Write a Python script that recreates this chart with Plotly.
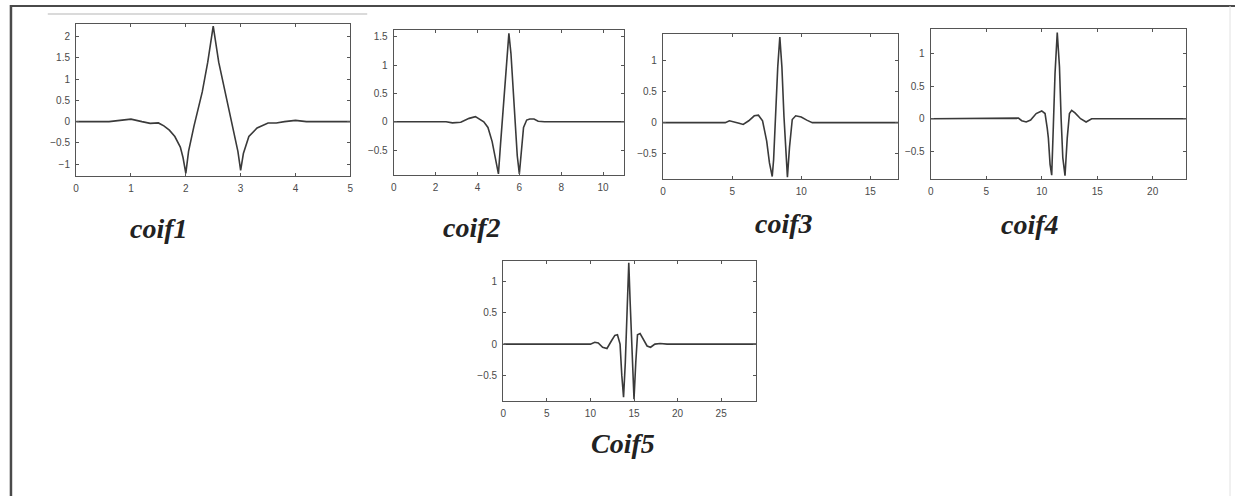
import plotly.graph_objects as go

# Coiflet wavelet functions psi(t), sampled by hand along each curve
coif1_x = [0, 0.6, 0.8, 1.0, 1.2, 1.35, 1.5, 1.6, 1.7, 1.8, 1.9, 1.95, 2.0, 2.05, 2.15, 2.3, 2.4, 2.5,
           2.6, 2.7, 2.85, 2.95, 3.0, 3.05, 3.15, 3.3, 3.5, 3.65, 3.8, 4.0, 4.2, 5.0]
coif1_y = [0, 0, 0.03, 0.06, 0.0, -0.04, -0.03, -0.1, -0.2, -0.35, -0.6, -0.85, -1.22, -0.7, -0.1, 0.7, 1.4, 2.25,
           1.4, 0.8, -0.1, -0.7, -1.15, -0.75, -0.35, -0.15, -0.03, -0.03, 0.0, 0.03, 0.0, 0.0]

coif2_x = [0, 2.5, 2.8, 3.2, 3.6, 3.9, 4.3, 4.5, 4.7, 4.85, 4.95, 5.0, 5.1, 5.25, 5.4, 5.5, 5.6, 5.75,
           5.9, 6.0, 6.08, 6.2, 6.35, 6.5, 6.7, 6.9, 7.2, 11]
coif2_y = [0, 0, -0.02, -0.01, 0.06, 0.09, 0.0, -0.1, -0.35, -0.65, -0.88, -0.92, -0.4, 0.4, 1.2, 1.56, 1.2, 0.3,
           -0.6, -0.92, -0.6, -0.1, 0.03, 0.05, 0.05, 0.01, 0, 0]

coif3_x = [0, 4.5, 4.8, 5.2, 5.5, 5.8, 6.2, 6.6, 6.9, 7.2, 7.5, 7.7, 7.9, 8.0, 8.15, 8.3, 8.45, 8.6,
           8.75, 8.9, 9.0, 9.15, 9.35, 9.6, 10.0, 10.4, 10.8, 11.2, 17]
coif3_y = [0, 0, 0.03, 0.0, -0.01, -0.03, 0.03, 0.11, 0.12, 0.03, -0.3, -0.65, -0.87, -0.6, 0.2, 0.9, 1.38, 0.9,
           0.1, -0.6, -0.88, -0.4, 0.05, 0.11, 0.09, 0.04, 0.0, 0.0, 0]

coif4_x = [0, 7.6, 7.9, 8.2, 8.6, 9.0, 9.5, 10.0, 10.3, 10.5, 10.6, 10.75, 10.9, 11.05, 11.2, 11.4, 11.6,
           11.75, 11.9, 12.1, 12.3, 12.5, 12.7, 13.0, 13.5, 14.0, 14.5, 15, 23]
coif4_y = [0, 0, 0.01, -0.03, -0.05, -0.02, 0.08, 0.12, 0.08, -0.15, -0.3, -0.7, -0.87, -0.1, 0.7, 1.33, 0.8,
           0.0, -0.6, -0.88, -0.3, 0.08, 0.13, 0.09, 0.0, -0.05, 0.0, 0, 0]

coif5_x = [0, 10.0, 10.5, 10.9, 11.4, 11.9, 12.4, 12.8, 13.1, 13.4, 13.6, 13.8, 14.0, 14.2, 14.4, 14.55,
           14.7, 14.85, 15.0, 15.2, 15.4, 15.7, 16.1, 16.5, 16.9, 17.4, 18.0, 18.8, 29]
coif5_y = [0, 0, 0.03, 0.02, -0.05, -0.07, 0.05, 0.14, 0.15, 0.0, -0.5, -0.85, -0.3, 0.6, 1.3, 0.7,
           0.1, -0.5, -0.88, -0.3, 0.15, 0.17, 0.08, -0.03, -0.05, 0.0, 0.01, 0, 0]

names = ["coif1", "coif2", "coif3", "coif4", "Coif5"]
xs = [coif1_x, coif2_x, coif3_x, coif4_x, coif5_x]
ys = [coif1_y, coif2_y, coif3_y, coif4_y, coif5_y]
x_ranges = [[0, 5], [0, 11], [0, 17], [0, 23], [0, 29]]
y_ranges = [[-1.28, 2.3], [-0.94, 1.62], [-0.91, 1.43], [-0.93, 1.38], [-0.91, 1.33]]
x_ticks = [[0, 1, 2, 3, 4, 5], [0, 2, 4, 6, 8, 10], [0, 5, 10, 15], [0, 5, 10, 15, 20], [0, 5, 10, 15, 20, 25]]
y_ticks = [[-1, -0.5, 0, 0.5, 1, 1.5, 2], [-0.5, 0, 0.5, 1, 1.5], [-0.5, 0, 0.5, 1],
           [-0.5, 0, 0.5, 1], [-0.5, 0, 0.5, 1]]

W, H = 1238, 496
# panel boxes in pixels: left, right, top, bottom
boxes = [(73.5, 349, 24, 176), (392.7, 624, 30, 175), (663.3, 899.3, 34, 179),
         (932.3, 1188.7, 29.3, 179), (502.7, 756.7, 261, 401)]
# caption centres in pixels
captions = [(157, 228), (471, 227), (785, 223), (1032, 224), (623, 443)]

AX_COLOR = "#555555"
TICK_FONT = dict(family="Liberation Sans, Arial, sans-serif", size=10, color="#4a4a4a")

fig = go.Figure()
layout = dict(width=W, height=H, margin=dict(l=0, r=0, t=0, b=0),
              paper_bgcolor="white", plot_bgcolor="white", showlegend=False)

annotations = []
for i in range(5):
    sfx = "" if i == 0 else str(i + 1)
    l, r, t, b = boxes[i]
    fig.add_trace(go.Scatter(x=xs[i], y=ys[i], mode="lines",
                             line=dict(color="#3a3a3a", width=1.6),
                             xaxis="x" + sfx, yaxis="y" + sfx, hoverinfo="skip"))
    common = dict(showgrid=False, zeroline=False, showline=True, linecolor=AX_COLOR, linewidth=1.3,
                  mirror="ticks", ticks="inside", ticklen=3, tickcolor=AX_COLOR, tickfont=TICK_FONT)
    layout["xaxis" + sfx] = dict(common, domain=[l / W, r / W], range=x_ranges[i], tickvals=x_ticks[i],
                                  anchor="y" + sfx, ticklabelstandoff=3)
    layout["yaxis" + sfx] = dict(common, domain=[1 - b / H, 1 - t / H], range=y_ranges[i], tickvals=y_ticks[i],
                                  anchor="x" + sfx, ticklabelstandoff=3)
    cx, cy = captions[i]
    annotations.append(dict(text="<b><i>" + names[i] + "</i></b>", x=cx / W, y=1 - cy / H,
                            xref="paper", yref="paper", showarrow=False, xanchor="center", yanchor="middle",
                            font=dict(family="Liberation Serif, Times New Roman, serif", size=28, color="#222222")))

shapes = [
    # outer frame: top and left edges, faint right edge
    dict(type="line", xref="paper", yref="paper", x0=7 / W, x1=1, y0=1 - 6 / H, y1=1 - 6 / H,
         line=dict(color="#4a4a4a", width=2)),
    dict(type="line", xref="paper", yref="paper", x0=8 / W, x1=8 / W, y0=0, y1=1 - 5 / H,
         line=dict(color="#4a4a4a", width=2.5)),
    dict(type="line", xref="paper", yref="paper", x0=1233 / W, x1=1233 / W, y0=0, y1=1 - 6 / H,
         line=dict(color="#e2e2e2", width=1)),
    # thin rule above the first panel
    dict(type="line", xref="paper", yref="paper", x0=45 / W, x1=366 / W, y0=1 - 14 / H, y1=1 - 14 / H,
         line=dict(color="#b5b5b5", width=1)),
]

layout["annotations"] = annotations
layout["shapes"] = shapes
fig.update_layout(**layout)
fig.write_html("out.html")
